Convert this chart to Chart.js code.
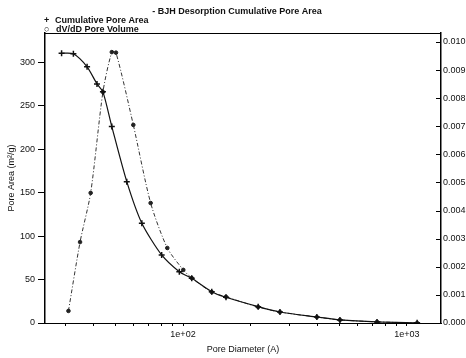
<!DOCTYPE html>
<html>
<head>
<meta charset="utf-8">
<script src="https://cdn.jsdelivr.net/npm/chart.js@4"></script>
<style>
    html, body { margin: 0; padding: 0; background: #fff; }
</style>
</head>
<body>
<canvas id="chartCanvas" width="466" height="358"></canvas>
<script>
// Cumulative Pore Area (linke Achse, m²/g)
const areaDiam   = [28.7, 32.4, 37.3, 41.3, 43.9, 48.1, 56.1, 65.5, 80.3, 96.3, 109.4, 134.4, 155.6, 216.6, 271, 396, 502, 735, 1110];
const areaValues = [310.7, 310.0, 295.0, 275.4, 266.2, 226.2, 162.8, 114.9, 78.4, 59.1, 51.5, 36.1, 29.6, 18.8, 12.7, 6.9, 3.5, 1.2, 0.3];

// dV/dD Pore Volume (rechte Achse)
const volDiam   = [30.8, 34.7, 38.7, 43.9, 48.1, 50.2, 60.0, 71.7, 85.1, 100.3, 109.4, 134.4, 155.6, 216.6, 271, 396, 502, 735, 1110];
const volValues = [0.00043, 0.00288, 0.00463, 0.00822, 0.00964, 0.00962, 0.00705, 0.00427, 0.00267, 0.00189, 0.0016, 0.0011, 0.00093, 0.00057, 0.00039, 0.00021, 0.00011, 0.00004, 0.0];

// Achsen
const xTicks = [30, 40, 50, 60, 70, 80, 90, 100, 200, 300, 400, 500, 600, 700, 800, 900, 1000];
const xTickLabels = { 100: '1e+02', 1000: '1e+03' };
const titleText = '- BJH Desorption Cumulative Pore Area';
const legendLabels = ['Cumulative Pore Area', 'dV/dD Pore Volume'];

const FONT = '"Liberation Sans", Arial, sans-serif';

// Rahmen oben, Ticks rechts nach innen, Titel und Legende
const decorPlugin = {
    id: 'decor',
    afterDraw(chart) {
        const ctx = chart.ctx;
        const area = chart.chartArea;
        ctx.save();
        ctx.strokeStyle = '#000';
        ctx.lineWidth = 1;
        ctx.beginPath();
        ctx.moveTo(area.left, area.top + 0.5);
        ctx.lineTo(area.right, area.top + 0.5);
        const y2 = chart.scales.y2;
        y2.ticks.forEach(t => {
            const py = Math.round(y2.getPixelForValue(t.value)) + 0.5;
            ctx.moveTo(area.right - 5, py);
            ctx.lineTo(area.right, py);
        });
        ctx.stroke();

        ctx.fillStyle = '#111';
        ctx.font = 'bold 9px ' + FONT;
        ctx.textBaseline = 'middle';
        ctx.textAlign = 'center';
        ctx.fillText(titleText, 237, 12);
        ctx.textAlign = 'left';
        ctx.fillText('+', 44, 21);
        ctx.fillText(legendLabels[0], 55, 21);
        ctx.fillText('○', 44, 30);
        ctx.fillText(legendLabels[1], 56, 30);
        ctx.restore();
    }
};

new Chart(document.getElementById('chartCanvas').getContext('2d'), {
    type: 'line',
    data: {
        datasets: [
            {
                label: legendLabels[0],
                data: areaDiam.map((d, i) => ({ x: d, y: areaValues[i] })),
                yAxisID: 'y',
                borderColor: '#111',
                borderWidth: 1.2,
                pointStyle: 'cross',
                pointRadius: 3,
                pointBorderColor: '#111',
                pointBorderWidth: 1.5,
                tension: 0.25,
                fill: false
            },
            {
                label: legendLabels[1],
                data: volDiam.map((d, i) => ({ x: d, y: volValues[i] })),
                yAxisID: 'y2',
                borderColor: '#333',
                borderWidth: 1,
                borderDash: [4, 2, 1, 2],
                pointStyle: 'circle',
                pointRadius: 1.8,
                pointBackgroundColor: '#222',
                pointBorderColor: '#222',
                tension: 0.25,
                fill: false
            }
        ]
    },
    options: {
        responsive: false,
        animation: false,
        layout: { padding: { top: 33, left: 0, right: 0, bottom: 0 } },
        plugins: {
            legend: { display: false },
            title: { display: false },
            tooltip: { enabled: false }
        },
        scales: {
            x: {
                type: 'logarithmic',
                position: 'bottom',
                min: 24.2,
                max: 1419,
                afterBuildTicks: scale => { scale.ticks = xTicks.map(v => ({ value: v })); },
                afterFit: scale => { scale.height = 35; },
                ticks: {
                    autoSkip: false,
                    maxRotation: 0,
                    padding: 3,
                    color: '#111',
                    font: { family: FONT, size: 9 },
                    callback: v => xTickLabels[v] || ''
                },
                grid: { drawOnChartArea: false, tickLength: 3, color: '#000' },
                border: { color: '#000', width: 1 },
                title: {
                    display: true,
                    text: 'Pore Diameter (A)',
                    color: '#111',
                    font: { family: FONT, size: 9 },
                    padding: { top: 0, bottom: 3 }
                }
            },
            y: {
                position: 'left',
                min: 0,
                max: 334,
                afterFit: scale => { scale.width = 45; },
                ticks: {
                    stepSize: 50,
                    includeBounds: false,
                    padding: 3,
                    color: '#111',
                    font: { family: FONT, size: 9 }
                },
                grid: { drawOnChartArea: false, tickLength: 7, color: '#000' },
                border: { color: '#000', width: 1.5 },
                title: {
                    display: true,
                    text: 'Pore Area (m²/g)',
                    color: '#111',
                    font: { family: FONT, size: 9 },
                    padding: { top: 6, bottom: 0 }
                }
            },
            y2: {
                position: 'right',
                min: 0,
                max: 0.01032,
                afterFit: scale => { scale.width = 25; },
                ticks: {
                    stepSize: 0.001,
                    includeBounds: false,
                    padding: 2,
                    color: '#111',
                    font: { family: FONT, size: 9 },
                    callback: v => v.toFixed(3)
                },
                grid: { drawOnChartArea: false, drawTicks: false, color: '#000' },
                border: { color: '#000', width: 1.5 }
            }
        }
    },
    plugins: [decorPlugin]
});
</script>
</body>
</html>
